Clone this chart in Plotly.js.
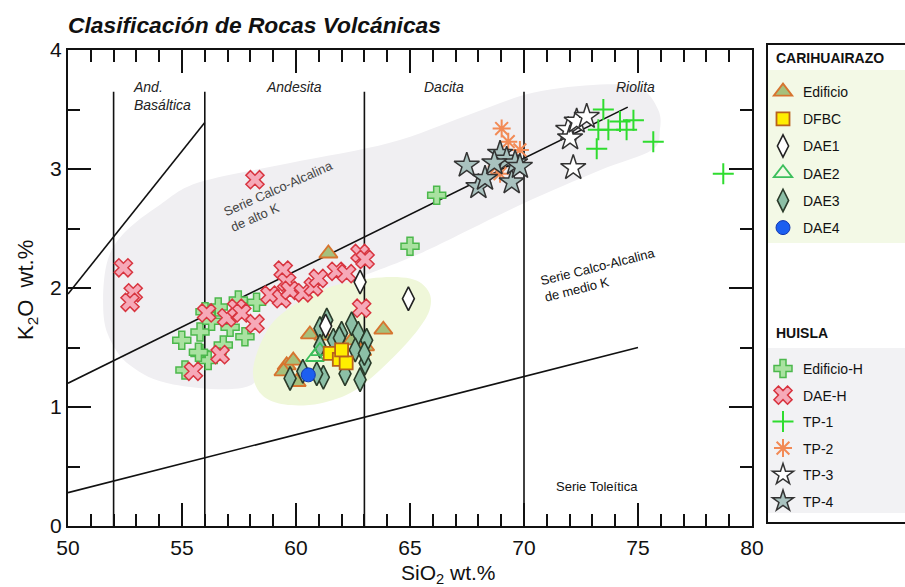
<!DOCTYPE html>
<html>
<head>
<meta charset="utf-8">
<script src="https://cdn.plot.ly/plotly-3.0.1.min.js"></script>
<style>body{margin:0;padding:0;background:#fff}#chart{width:905px;height:587px}</style>
</head>
<body>
<div id="chart"></div>
<script>
// ---------- data (SiO2 wt.%, K2O wt.%) ----------
const edificioX = [61.42, 60.61, 62.44, 63.03, 63.83, 59.59, 59.88, 59.45, 60.03, 62.9, 61.2];
const edificioY = [2.29, 1.61, 1.56, 1.51, 1.65, 1.35, 1.39, 1.30, 1.21, 1.47, 1.60];
const dfbcX = [61.5, 61.9, 62.2, 62.0];
const dfbcY = [1.45, 1.40, 1.37, 1.48];
const dae1X = [62.81, 64.93, 61.3];
const dae1Y = [2.05, 1.91, 1.68];
const dae2X = [60.83, 61.05];
const dae2Y = [1.42, 1.47];
const dae3X = [61.35, 61.05, 61.64, 62.44, 62.73, 63.10, 61.05, 61.20, 62.15, 62.81, 63.03, 59.74, 60.91, 62.0, 62.6, 60.3, 63.0, 61.9];
const dae3Y = [1.73, 1.66, 1.56, 1.70, 1.62, 1.56, 1.51, 1.25, 1.28, 1.23, 1.37, 1.24, 1.28, 1.62, 1.48, 1.30, 1.45, 1.58];
const dae4X = [60.54];
const dae4Y = [1.27];

const edifHX = [66.17, 65.0, 54.99, 55.79, 56.59, 57.11, 57.76, 55.79, 56.81, 56.15, 55.13, 58.27, 57.47, 56.01, 55.72, 56.3];
const edifHY = [2.78, 2.35, 1.56, 1.63, 1.84, 1.67, 1.59, 1.45, 1.52, 1.39, 1.31, 1.88, 1.90, 1.80, 1.46, 1.72];
const daeHX = [58.20, 52.43, 52.86, 52.72, 56.08, 56.96, 57.40, 57.62, 58.20, 56.67, 55.50, 59.44, 59.59, 58.86, 59.37, 59.74, 60.32, 60.76, 60.98, 61.78, 62.22, 62.81, 63.03, 62.88];
const daeHY = [2.91, 2.17, 1.96, 1.88, 1.79, 1.75, 1.83, 1.79, 1.70, 1.44, 1.30, 2.15, 2.05, 1.94, 1.91, 1.98, 1.96, 2.01, 2.08, 2.14, 2.12, 2.29, 2.24, 1.83];
const tp1X = [73.48, 73.26, 73.70, 74.21, 74.80, 74.50, 73.19, 75.67, 78.74];
const tp1Y = [3.50, 3.33, 3.33, 3.40, 3.41, 3.33, 3.17, 3.23, 2.96];
const tp2X = [69.02, 69.31, 69.82, 68.80, 68.95];
const tp2Y = [3.34, 3.23, 3.16, 3.02, 2.96];
const tp3X = [72.16, 71.94, 72.02, 72.31, 72.75];
const tp3Y = [3.01, 3.33, 3.26, 3.40, 3.44];
const tp4X = [67.49, 68.00, 68.29, 68.95, 69.24, 69.46, 69.61, 69.82, 68.7];
const tp4Y = [3.03, 2.85, 2.92, 3.13, 3.08, 2.89, 3.05, 3.02, 3.05];

// classification boundary lines
const shoshX = [50, 56], shoshY = [1.95, 3.39];
const highKX = [50, 74.55], highKY = [1.20, 3.52];
const lowKX = [50, 75], lowKY = [0.28, 1.50];
const divX = [52, 56, 63, 70];
const divTop = 3.65;

// region outlines (SiO2, K2O)
const greyBlob = [[51.54,1.90],[51.75,2.24],[52.50,2.47],[54.04,2.70],[55.79,2.89],[59.74,3.05],[64.12,3.22],[67.50,3.45],[70.39,3.64],[73.33,3.71],[75.09,3.68],[75.88,3.50],[75.96,3.33],[75.61,3.16],[73.33,2.99],[69.96,2.71],[66.01,2.34],[64.56,2.22],[61.49,1.97],[58.86,1.56],[57.98,1.18],[54.61,1.19],[52.72,1.35],[51.75,1.61]];
const greenBlob = [[58.11,1.29],[58.51,1.56],[59.30,1.77],[61.05,1.98],[63.25,2.08],[65.0,2.08],[65.79,1.98],[65.88,1.83],[65.35,1.65],[64.12,1.39],[62.59,1.14],[61.05,1.03],[59.52,1.02],[58.51,1.10]];

// ---------- helpers ----------
function smoothPath(pts){
  const n = pts.length; let d = 'M ' + pts[0][0] + ',' + pts[0][1];
  for (let i = 0; i < n; i++){
    const p0 = pts[(i-1+n)%n], p1 = pts[i], p2 = pts[(i+1)%n], p3 = pts[(i+2)%n];
    const c1 = [p1[0] + (p2[0]-p0[0])/6, p1[1] + (p2[1]-p0[1])/6];
    const c2 = [p2[0] - (p3[0]-p1[0])/6, p2[1] - (p3[1]-p1[1])/6];
    d += ' C ' + c1[0].toFixed(3) + ',' + c1[1].toFixed(3) + ' ' + c2[0].toFixed(3) + ',' + c2[1].toFixed(3) + ' ' + p2[0] + ',' + p2[1];
  }
  return d + ' Z';
}
const pxX = px => (px - 68) / 684;      // paper x from pixel
const pxY = py => (526 - py) / 476;     // paper y from pixel

const traces = [];
function line(x, y){ traces.push({x, y, mode:'lines', type:'scatter', line:{color:'#111', width:1.6}, showlegend:false, hoverinfo:'skip'}); }
line(shoshX, shoshY); line(highKX, highKY); line(lowKX, lowKY);
divX.forEach(v => line([v, v], [0, divTop]));

function pts(name, x, y, marker, leg, rank){
  traces.push({x, y, name, mode:'markers', type:'scatter', marker, legend: leg, legendgroup: name, legendrank: rank});
}
pts('Edificio-H', edifHX, edifHY, {symbol:'cross', size:15, color:'#a9e2a0', line:{color:'#4cb84c', width:1.5}}, 'legend2', 1);
pts('DAE-H', daeHX, daeHY, {symbol:'x', size:16, color:'#f6a9b8', line:{color:'#d8343f', width:1.5}}, 'legend2', 2);
pts('TP-1', tp1X, tp1Y, {symbol:'cross-thin', size:15, color:'#2fdc2f', line:{color:'#2fdc2f', width:2}}, 'legend2', 3);
pts('TP-2', tp2X, tp2Y, {symbol:'asterisk', size:15, color:'#f28a55', line:{color:'#f28a55', width:2}}, 'legend2', 4);
pts('TP-4', tp4X, tp4Y, {symbol:'star', size:19, color:'#a9c2bf', line:{color:'#333', width:1.5}}, 'legend2', 6);
pts('TP-3', tp3X, tp3Y, {symbol:'star', size:19, color:'#ffffff', line:{color:'#333', width:1.5}}, 'legend2', 5);
pts('Edificio', edificioX, edificioY, {symbol:'triangle-up', size:16, color:'#a6c07c', line:{color:'#d7742f', width:1.8}}, 'legend', 1);
pts('DAE3', dae3X, dae3Y, {symbol:'diamond-tall', size:17, color:'#8cbfa6', line:{color:'#2a3b2a', width:1.6}}, 'legend', 5);
pts('DAE1', dae1X, dae1Y, {symbol:'diamond-tall', size:17, color:'#ffffff', line:{color:'#222', width:1.6}}, 'legend', 3);
pts('DAE2', dae2X, dae2Y, {symbol:'triangle-up-open', size:16, color:'#3cbf5c', line:{color:'#3cbf5c', width:1.8}}, 'legend', 4);
pts('DFBC', dfbcX, dfbcY, {symbol:'square', size:13, color:'#ffee00', line:{color:'#b8621c', width:1.8}}, 'legend', 2);
pts('DAE4', dae4X, dae4Y, {symbol:'circle', size:14, color:'#1c5ff0', line:{color:'#1238b0', width:1}}, 'legend', 6);

const labFont = {family:'Liberation Sans, Arial, sans-serif', size:14, color:'#222'};
const it = t => '<i>' + t + '</i>';
const F = 'Liberation Sans, Arial, sans-serif';
const ann = [
  {x:52.75, y:3.61, xref:'x', yref:'y', text:it('And.<br>Basáltica'), showarrow:false, xanchor:'left', yanchor:'middle', align:'left', font:labFont},
  {x:59.91, y:3.69, xref:'x', yref:'y', text:it('Andesita'), showarrow:false, xanchor:'center', yanchor:'middle', font:labFont},
  {x:66.49, y:3.69, xref:'x', yref:'y', text:it('Dacita'), showarrow:false, xanchor:'center', yanchor:'middle', font:labFont},
  {x:74.91, y:3.69, xref:'x', yref:'y', text:it('Riolita'), showarrow:false, xanchor:'center', yanchor:'middle', font:labFont},
  {x:59.4, y:2.77, xref:'x', yref:'y', text:'Serie Calco-Alcalina<br>de alto K', showarrow:false, xanchor:'center', yanchor:'middle', textangle:-24, align:'left', font:{family:F, size:13, color:'#444'}},
  {x:73.33, y:2.11, xref:'x', yref:'y', text:'Serie Calco-Alcalina<br>de medio K', showarrow:false, xanchor:'center', yanchor:'middle', textangle:-14, align:'left', font:{family:F, size:13, color:'#111'}},
  {x:73.2, y:0.335, xref:'x', yref:'y', text:'Serie Toleítica', showarrow:false, xanchor:'center', yanchor:'middle', font:{family:F, size:13, color:'#111'}},
  {x:pxX(448), y:pxY(574), xref:'paper', yref:'paper', text:'SiO<sub>2</sub> wt.%', showarrow:false, xanchor:'center', yanchor:'middle', font:{family:F, size:21, color:'#111'}},
  {x:pxX(27), y:pxY(290), xref:'paper', yref:'paper', text:'K<sub>2</sub>O  wt.%', textangle:-90, showarrow:false, xanchor:'center', yanchor:'middle', font:{family:F, size:22, color:'#111'}},
  {x:pxX(774), y:pxY(58), xref:'paper', yref:'paper', text:'<b>CARIHUAIRAZO</b>', showarrow:false, xanchor:'left', yanchor:'middle', font:{family:F, size:14, color:'#111'}},
  {x:pxX(774), y:pxY(333), xref:'paper', yref:'paper', text:'<b>HUISLA</b>', showarrow:false, xanchor:'left', yanchor:'middle', font:{family:F, size:14, color:'#111'}}
];

const shapes = [
  {type:'path', xref:'x', yref:'y', path:smoothPath(greyBlob), fillcolor:'#f0eff2', line:{width:0}, layer:'below'},
  {type:'path', xref:'x', yref:'y', path:smoothPath(greenBlob), fillcolor:'#eff7d9', line:{width:0}, layer:'below'},
  {type:'rect', xref:'paper', yref:'paper', x0:pxX(768), x1:pxX(910), y0:pxY(243), y1:pxY(70), fillcolor:'#f3f9e6', line:{width:0}, layer:'below'},
  {type:'rect', xref:'paper', yref:'paper', x0:pxX(768), x1:pxX(910), y0:pxY(513), y1:pxY(348), fillcolor:'#f2f2f4', line:{width:0}, layer:'below'},
  {type:'rect', xref:'paper', yref:'paper', x0:pxX(767), x1:pxX(915), y0:pxY(523), y1:pxY(44), fillcolor:'rgba(0,0,0,0)', line:{width:2, color:'#111'}}
];

const tickFont = {family:'Liberation Sans Narrow, Arial Narrow, Liberation Sans, Arial, sans-serif', size:21, color:'#111'};
const legFont = {family:F, size:14, color:'#111'};
const layout = {
  width:905, height:587,
  margin:{l:68, r:153, t:50, b:61, autoexpand:false},
  paper_bgcolor:'#fff', plot_bgcolor:'rgba(0,0,0,0)',
  title:{text:'<b><i>Clasificación de Rocas Volcánicas</i></b>', x:pxX(68), xanchor:'left', y:1-25/587, yanchor:'middle', xref:'paper', font:{family:F, size:22.8, color:'#111'}},
  xaxis:{range:[50,80], dtick:5, tick0:50, ticks:'inside', ticklen:23, tickwidth:2, tickcolor:'#111', mirror:'ticks', showline:true, linewidth:2, linecolor:'#111', showgrid:false, zeroline:false, tickfont:tickFont, ticklabelstandoff:2,
    minor:{dtick:1, ticklen:12, tickwidth:2, tickcolor:'#111', ticks:'inside', showgrid:false}},
  yaxis:{range:[0,4], dtick:1, tick0:0, ticks:'inside', ticklen:23, tickwidth:2, tickcolor:'#111', mirror:'ticks', showline:true, linewidth:2, linecolor:'#111', showgrid:false, zeroline:false, tickfont:tickFont,
    minor:{dtick:0.5, ticklen:12, tickwidth:2, tickcolor:'#111', ticks:'inside', showgrid:false}},
  showlegend:true,
  legend:{x:pxX(763), xanchor:'left', y:pxY(76), yanchor:'top', bgcolor:'rgba(0,0,0,0)', borderwidth:0, font:legFont, traceorder:'grouped', tracegroupgap:6, itemclick:false},
  legend2:{x:pxX(763), xanchor:'left', y:pxY(353), yanchor:'top', bgcolor:'rgba(0,0,0,0)', borderwidth:0, font:legFont, traceorder:'grouped', tracegroupgap:5.3, itemclick:false},
  annotations:ann, shapes:shapes
};
Plotly.newPlot('chart', traces, layout, {displayModeBar:false, staticPlot:true});
</script>
</body>
</html>
